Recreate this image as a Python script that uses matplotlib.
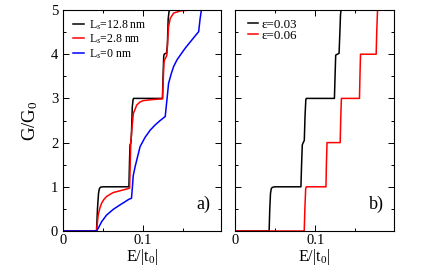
import matplotlib
matplotlib.use("Agg")
import matplotlib.pyplot as plt
from matplotlib.ticker import MultipleLocator

plt.rcParams['font.family'] = ['Liberation Serif', 'DejaVu Serif']
plt.rcParams['mathtext.fontset'] = 'custom'
plt.rcParams['mathtext.rm'] = 'Liberation Serif'
plt.rcParams['mathtext.it'] = 'Liberation Serif:italic'

# Panel a) data
a_labels = ["L$_s$=12.8 nm", "L$_s$=2.8 nm", "L$_s$=0 nm"]
a_colors = ["black", "red", "blue"]

E_a_black = [0.0, 0.042, 0.0432, 0.0445, 0.0455, 0.0468, 0.05, 0.0826, 0.0834, 0.0840, 0.0852, 0.0858,
             0.0868, 0.0878, 0.0884, 0.090, 0.1246, 0.1254, 0.1262, 0.1268, 0.1298, 0.1308,
             0.1318, 0.1330, 0.1340, 0.198]
G_a_black = [0.0, 0.0, 0.5, 0.85, 0.95, 0.99, 1.0, 1.0, 1.6, 1.95, 2.0, 2.2,
             2.8, 2.97, 3.0, 3.0, 3.0, 3.5, 3.95, 4.0, 4.03, 4.2,
             4.8, 4.98, 5.0, 5.0]

E_a_red = [0.0, 0.042, 0.0441, 0.0462, 0.0484, 0.0515, 0.0546, 0.059, 0.063, 0.0714, 0.0819, 0.0835,
           0.0842, 0.0849, 0.0865, 0.0882, 0.0924, 0.0966, 0.1008, 0.110, 0.1248, 0.1256,
           0.1265, 0.1272, 0.1290, 0.1302, 0.1312, 0.1323, 0.1344, 0.1386, 0.147, 0.160, 0.198]
G_a_red = [0.0, 0.0, 0.36, 0.52, 0.63, 0.72, 0.78, 0.83, 0.87, 0.91, 0.96, 0.97,
           1.5, 1.98, 2.35, 2.66, 2.85, 2.92, 2.95, 2.97, 2.99, 3.4,
           3.8, 3.87, 3.93, 3.98, 4.3, 4.62, 4.81, 4.93, 4.98, 5.0, 5.0]

E_a_blue = [0.0, 0.042, 0.0441, 0.0484, 0.0546, 0.063, 0.0714, 0.0828, 0.0858, 0.0870, 0.0880,
            0.0903, 0.0966, 0.1029, 0.1092, 0.1155, 0.1218, 0.1281, 0.1290, 0.1302, 0.1323,
            0.1355, 0.1386, 0.1428, 0.147, 0.1533, 0.1596, 0.1650, 0.170, 0.1718, 0.1734, 0.198]
G_a_blue = [0.0, 0.0, 0.06, 0.21, 0.36, 0.49, 0.59, 0.72, 0.74, 1.0, 1.25,
            1.45, 1.91, 2.12, 2.28, 2.40, 2.50, 2.59, 2.75, 2.96, 3.34,
            3.55, 3.72, 3.87, 3.98, 4.14, 4.28, 4.40, 4.51, 4.8, 5.0, 5.0]

# Panel b) data
b_labels = ["\u03b5=0.03", "\u03b5=0.06"]
b_colors = ["black", "red"]

E_b_black = [0.0, 0.0425, 0.0433, 0.0442, 0.0452, 0.0467, 0.050, 0.0821, 0.0829, 0.0838, 0.0850,
             0.0863, 0.0872, 0.0882, 0.0888, 0.092, 0.1238, 0.1246, 0.1254, 0.1296, 0.1304,
             0.1314, 0.1321, 0.198]
G_b_black = [0.0, 0.0, 0.5, 0.85, 0.96, 0.99, 1.0, 1.0, 1.5, 1.95, 2.0,
             2.05, 2.6, 2.97, 3.0, 3.0, 3.0, 3.5, 3.98, 4.02, 4.4,
             4.9, 5.0, 5.0]

E_b_red = [0.0, 0.0862, 0.0870, 0.0880, 0.0888, 0.1133, 0.1138, 0.1146, 0.131, 0.1316, 0.1325,
           0.155, 0.1556, 0.1563, 0.1758, 0.1765, 0.1775, 0.198]
G_b_red = [0.0, 0.0, 0.5, 0.95, 1.0, 1.0, 1.5, 2.0, 2.0, 2.5, 3.0,
           3.0, 3.5, 4.0, 4.0, 4.5, 5.0, 5.0]

xmax = 0.198

fig = plt.figure(figsize=(4.36, 2.72), dpi=100)
ax1 = fig.add_axes([63/436, 1-231/272, 158/436, 221/272])
ax2 = fig.add_axes([235/436, 1-231/272, 159/436, 221/272])

for E, G, c, lab in zip([E_a_black, E_a_red, E_a_blue], [G_a_black, G_a_red, G_a_blue], a_colors, a_labels):
    ax1.plot(E, G, color=c, lw=1.1, label=lab)
for E, G, c, lab in zip([E_b_black, E_b_red], [G_b_black, G_b_red], b_colors, b_labels):
    ax2.plot(E, G, color=c, lw=1.1, label=lab)

for ax in (ax1, ax2):
    ax.set_xlim(0, xmax)
    ax.set_ylim(0, 5)
    ax.xaxis.set_major_locator(MultipleLocator(0.1))
    ax.xaxis.set_minor_locator(MultipleLocator(0.05))
    ax.yaxis.set_major_locator(MultipleLocator(1))
    ax.yaxis.set_minor_locator(MultipleLocator(0.5))
    ax.tick_params(which='both', direction='in', top=True, right=True, labelsize=10.5, width=0.7)
    ax.tick_params(which='major', length=4)
    ax.tick_params(which='minor', length=2)
    ax.tick_params(axis='x', pad=2.5)
    ax.set_xticks([0, 0.1])
    ax.set_xticklabels(["0", "0.1"])
    ax.set_xlabel("E/|t$_0$|", fontsize=11.6, labelpad=0)
    for s in ax.spines.values():
        s.set_linewidth(0.8)

ax1.set_ylabel("G/G$_0$", fontsize=13.5, labelpad=8)
ax2.tick_params(labelleft=False)

ax1.legend(loc='upper left', bbox_to_anchor=(0.048, 0.974), frameon=False, fontsize=8.5,
           handlelength=0.93, labelspacing=0.05, borderaxespad=0.0, borderpad=0.2, handletextpad=0.4)
ax2.legend(loc='upper left', bbox_to_anchor=(0.063, 0.972), frameon=False, fontsize=9.4,
           handlelength=0.8, labelspacing=-0.1, borderaxespad=0.0, borderpad=0.2, handletextpad=0.25)

ax1.text(0.89, 0.12, "a)", transform=ax1.transAxes, fontsize=13, ha='center', va='center')
ax2.text(0.89, 0.12, "b)", transform=ax2.transAxes, fontsize=13, ha='center', va='center')

fig.savefig("out.png", dpi=100)
